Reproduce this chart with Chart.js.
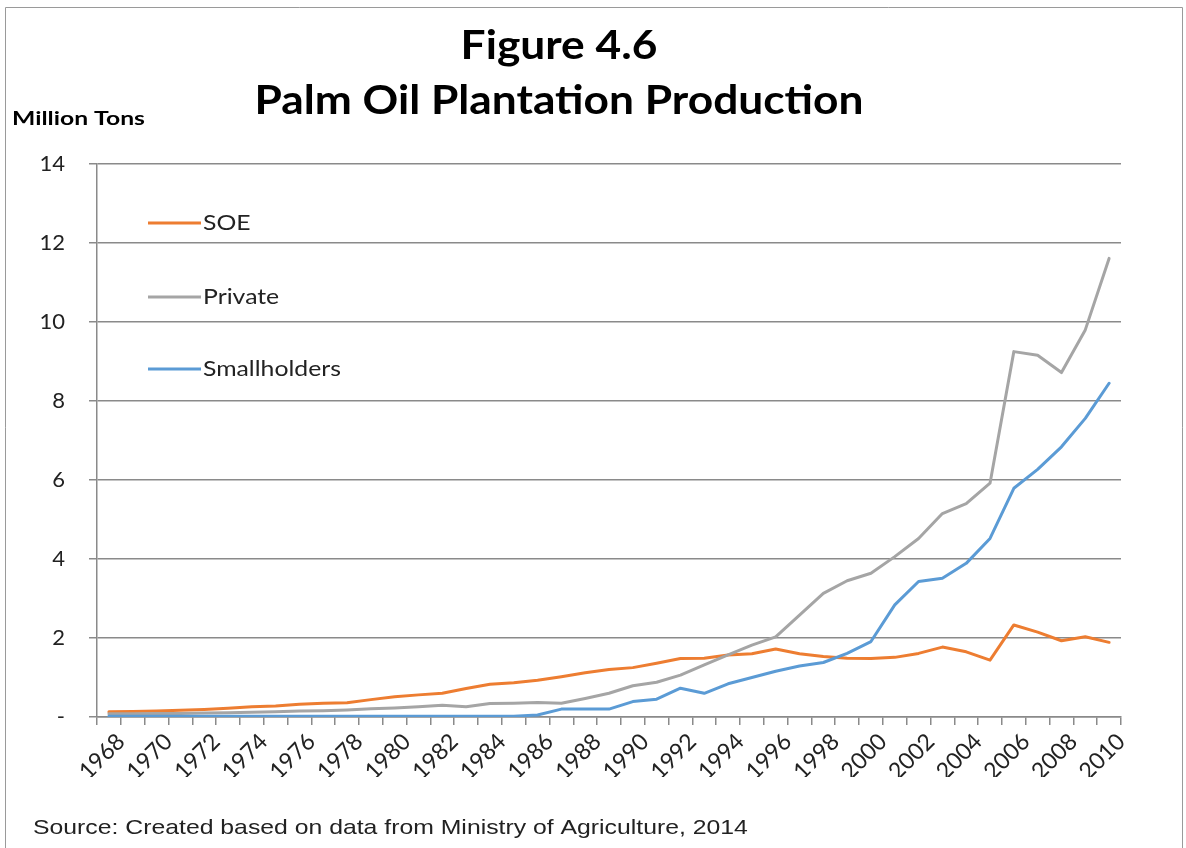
<!DOCTYPE html>
<html>
<head>
<meta charset="utf-8">
<title>Palm Oil Plantation Production</title>
<script src="https://cdn.jsdelivr.net/npm/chart.js@4.4.1/dist/chart.umd.min.js"></script>
<style>
  html, body { margin: 0; padding: 0; background: #fff; }
  #wrap { width: 1186px; height: 848px; position: relative; }
</style>
</head>
<body>
<div id="wrap"><canvas id="myChart" width="1186" height="848"></canvas></div>
<script>
// data (million tons)
var years = [];
for (var y = 1968; y <= 2010; y++) years.push(String(y));

var soe = [0.13, 0.14, 0.15, 0.17, 0.19, 0.22, 0.26, 0.28, 0.32, 0.35,
  0.36, 0.44, 0.51, 0.56, 0.60, 0.72, 0.83, 0.87, 0.93, 1.02,
  1.12, 1.20, 1.25, 1.36, 1.48, 1.49, 1.57, 1.60, 1.72, 1.60,
  1.53, 1.49, 1.48, 1.51, 1.61, 1.77, 1.65, 1.44, 2.33, 2.15,
  1.93, 2.03, 1.89];

var privateEst = [0.08, 0.08, 0.09, 0.09, 0.10, 0.11, 0.12, 0.13, 0.15, 0.16,
  0.18, 0.21, 0.23, 0.26, 0.30, 0.26, 0.34, 0.35, 0.37, 0.35,
  0.47, 0.60, 0.79, 0.88, 1.06, 1.32, 1.57, 1.82, 2.03, 2.58,
  3.13, 3.45, 3.64, 4.06, 4.52, 5.15, 5.40, 5.92, 9.25, 9.16,
  8.72, 9.80, 11.61];

var smallholders = [0.02, 0.02, 0.02, 0.02, 0.02, 0.02, 0.02, 0.02, 0.02, 0.02,
  0.02, 0.02, 0.02, 0.02, 0.02, 0.02, 0.02, 0.02, 0.05, 0.20,
  0.20, 0.20, 0.39, 0.45, 0.73, 0.60, 0.84, 1.00, 1.16, 1.29,
  1.38, 1.61, 1.91, 2.84, 3.43, 3.51, 3.89, 4.52, 5.79, 6.27,
  6.84, 7.56, 8.45];

var seriesNames = ["SOE", "Private", "Smallholders"];
var seriesColors = ["#ED7D31", "#A5A5A5", "#5B9BD5"];

var titleLines = ["Figure 4.6", "Palm Oil Plantation Production"];
var unitLabel = "Million Tons";
var sourceText = "Source: Created based on data from Ministry of Agriculture, 2014";

var gridColor = "#8a8a8a";

// the source figure is a bit stretched sideways, so text gets a x-scale
function stretchText(ctx, text, x, y, sx) {
  ctx.save();
  ctx.translate(x, y);
  ctx.scale(sx, 1);
  ctx.fillText(text, 0, 0);
  ctx.restore();
}

// titles, unit label, legend, source note and frame
var textPlugin = {
  id: "textPlugin",
  afterDraw: function (chart) {
    var ctx = chart.ctx;
    var area = chart.chartArea;
    ctx.save();

    // frame
    ctx.strokeStyle = "#9a9a9a";
    ctx.lineWidth = 1;
    ctx.beginPath();
    ctx.moveTo(5.5, 848);
    ctx.lineTo(5.5, 7.5);
    ctx.lineTo(1182.5, 7.5);
    ctx.lineTo(1182.5, 848);
    ctx.stroke();

    ctx.fillStyle = "#000";
    ctx.textAlign = "center";
    ctx.textBaseline = "middle";
    ctx.font = "bold 41px Lato";
    stretchText(ctx, titleLines[0], 559, 46, 1.08);
    stretchText(ctx, titleLines[1], 559, 101, 1.08);

    ctx.textAlign = "left";
    ctx.font = "bold 19px Lato";
    stretchText(ctx, unitLabel, 12, 119, 1.3);

    // legend inside the plot
    ctx.font = "21px Lato";
    var rows = [223, 297, 369];
    chart.data.datasets.forEach(function (ds, i) {
      ctx.strokeStyle = ds.borderColor;
      ctx.lineWidth = 3;
      ctx.beginPath();
      ctx.moveTo(area.left + 51, rows[i]);
      ctx.lineTo(area.left + 104, rows[i]);
      ctx.stroke();
      ctx.fillStyle = "#222";
      stretchText(ctx, ds.label, area.left + 106, rows[i], 1.18);
    });

    ctx.fillStyle = "#222";
    ctx.font = "21px 'Liberation Sans'";
    stretchText(ctx, sourceText, 33, 828, 1.18);
    ctx.restore();
  }
};

var ctx = document.getElementById("myChart").getContext("2d");
var myChart = new Chart(ctx, {
  type: "line",
  data: {
    labels: years,
    datasets: [
      { label: seriesNames[0], data: soe, borderColor: seriesColors[0], order: 3 },
      { label: seriesNames[1], data: privateEst, borderColor: seriesColors[1], order: 2 },
      { label: seriesNames[2], data: smallholders, borderColor: seriesColors[2], order: 1 }
    ]
  },
  options: {
    responsive: false,
    animation: false,
    layout: { padding: { top: 164, left: 0, right: 65, bottom: 71 } },
    elements: {
      point: { radius: 0 },
      line: { borderWidth: 3, tension: 0, borderJoinStyle: "round", borderCapStyle: "round" }
    },
    plugins: {
      legend: { display: false },
      title: { display: false },
      tooltip: { enabled: false }
    },
    scales: {
      x: {
        type: "category",
        offset: true,
        afterFit: function (scale) { scale.height = 60; },
        grid: {
          offset: true,
          drawOnChartArea: false,
          drawTicks: true,
          tickLength: 8,
          color: gridColor,
          lineWidth: 1.5
        },
        border: { display: true, color: gridColor, width: 1.5 },
        ticks: {
          autoSkip: false,
          maxRotation: 45,
          minRotation: 45,
          labelOffset: 12,
          padding: 3,
          color: "#222",
          font: { family: "Lato", size: 23 },
          callback: function (value, index) {
            return index % 2 === 0 ? this.getLabelForValue(value) : "";
          }
        }
      },
      y: {
        min: 0,
        max: 14,
        afterFit: function (scale) { scale.width = 97; },
        grid: {
          color: gridColor,
          lineWidth: 1.5,
          tickLength: 8
        },
        border: { display: true, color: gridColor, width: 1.5 },
        ticks: {
          stepSize: 2,
          padding: 24,
          color: "#222",
          font: { family: "Lato", size: 22 },
          callback: function (v) { return v === 0 ? "-" : v; }
        }
      }
    }
  },
  plugins: [textPlugin]
});
</script>
</body>
</html>
